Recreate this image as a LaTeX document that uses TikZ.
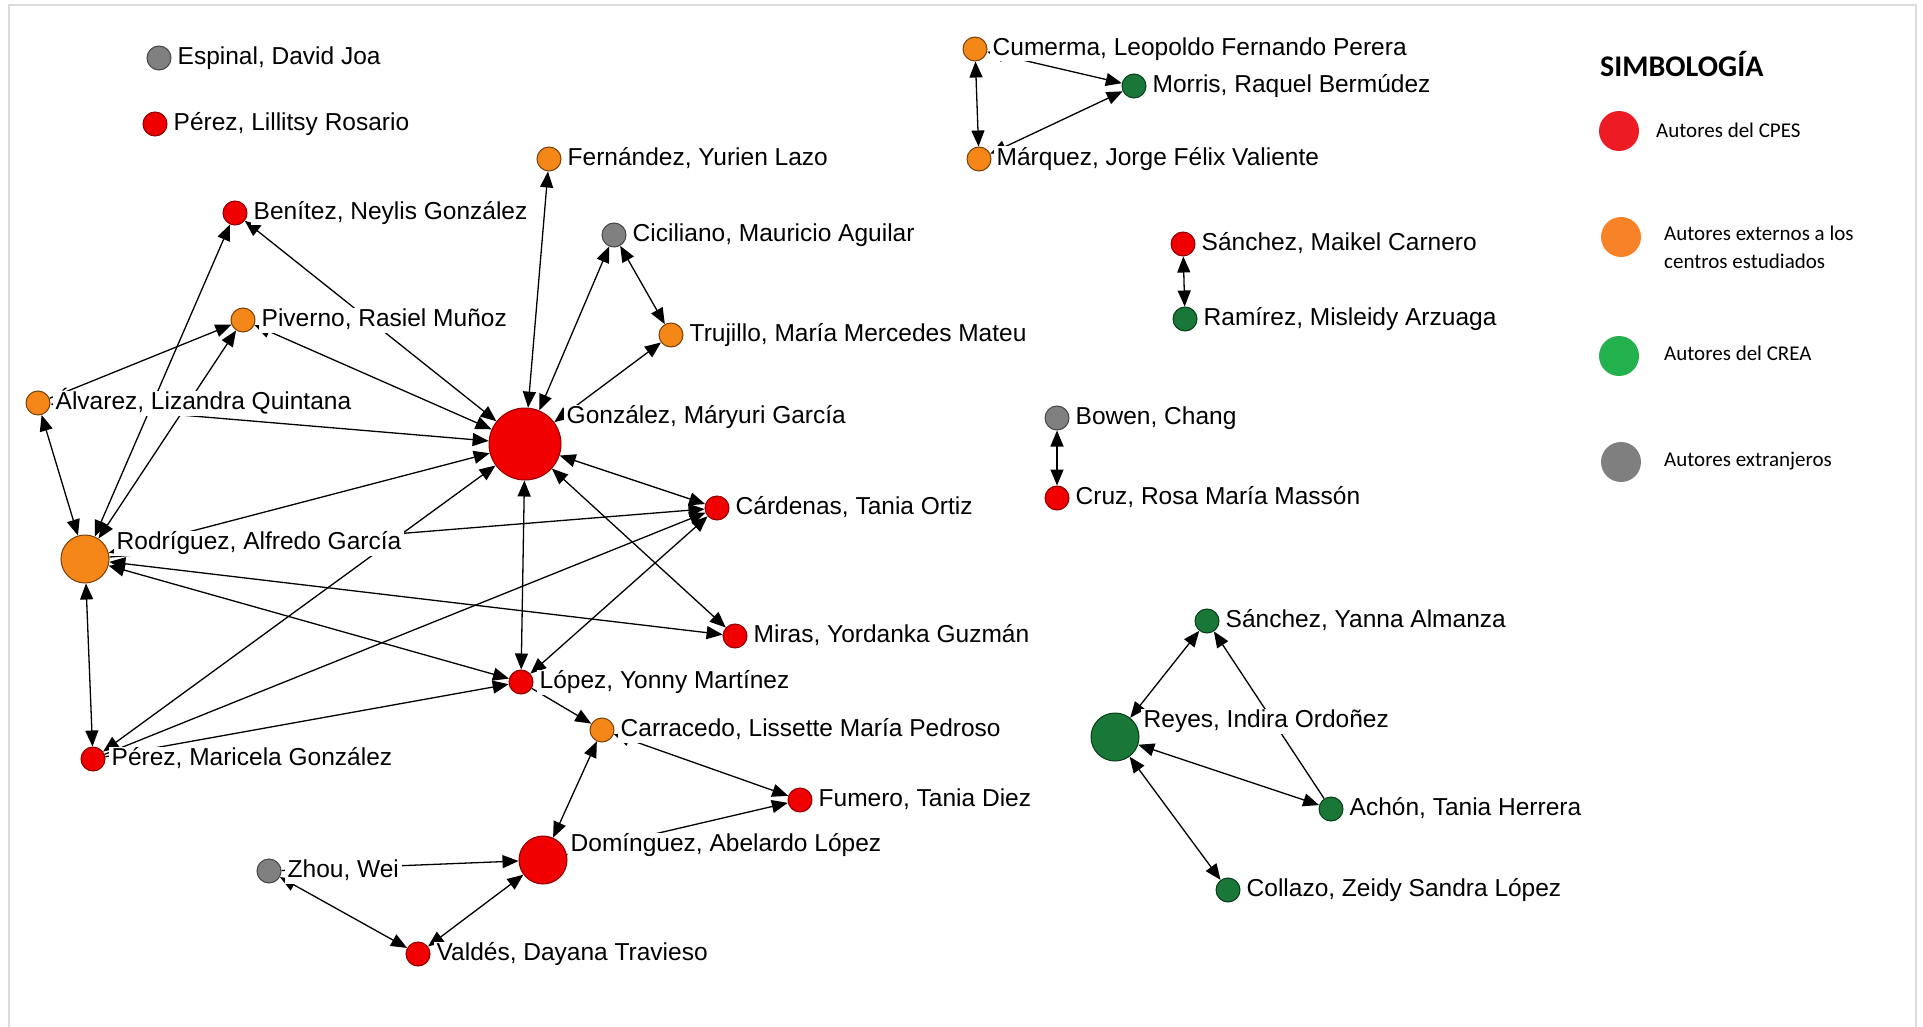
\documentclass[tikz,border=0pt]{standalone}
\usepackage{fontspec}
\setmainfont{Liberation Sans}
\newfontfamily\legfont{Carlito}
\usetikzlibrary{arrows.meta}
\pgfdeclarelayer{bglayer}
\pgfdeclarelayer{edgelayer}
\pgfsetlayers{bglayer,edgelayer,main}
\definecolor{cpred}{RGB}{240,0,0}
\definecolor{cpredd}{RGB}{140,0,0}
\definecolor{exor}{RGB}{245,135,25}
\definecolor{exord}{RGB}{120,65,10}
\definecolor{crgr}{RGB}{25,120,55}
\definecolor{crgrd}{RGB}{10,60,25}
\definecolor{fogr}{RGB}{128,128,128}
\definecolor{fogrd}{RGB}{70,70,70}
\definecolor{lgred}{RGB}{237,28,36}
\definecolor{lgor}{RGB}{247,130,40}
\definecolor{lggr}{RGB}{34,177,76}
\definecolor{lggy}{RGB}{127,127,127}
\definecolor{framegray}{RGB}{220,220,220}
\tikzset{
  base/.style={circle, inner sep=0pt, line width=1pt},
  cp/.style={base, fill=cpred, draw=cpredd},
  ex/.style={base, fill=exor, draw=exord},
  cr/.style={base, fill=crgr, draw=crgrd},
  fo/.style={base, fill=fogr, draw=fogrd},
  sm/.style={minimum size=24pt},
  md/.style={minimum size=48pt},
  lg/.style={minimum size=72pt},
  lab/.style={anchor=west, fill=white, inner xsep=3pt, inner ysep=1pt, text height=18pt, text depth=5pt,
              font=\fontsize{24.5}{28}\selectfont},
  edgeline/.style={draw=black, line width=1.3pt},
  bi/.style={edgeline, <->},
  uni/.style={edgeline, ->},
  legdot/.style={circle, inner sep=0pt, minimum size=40pt},
  legtxt/.style={anchor=west, inner sep=0pt, font=\legfont\fontsize{21}{28}\selectfont, align=left},
}
\begin{document}
\begin{tikzpicture}[x=1pt,y=-1pt,>={Triangle[length=16pt,width=13pt]}]
\useasboundingbox (0,0) rectangle (1923,1027);
\begin{pgfonlayer}{bglayer}
\fill[white] (0,0) rectangle (1923,1027);
\draw[framegray, line width=2.5pt] (9,1027) -- (9,5) -- (1916,5) -- (1916,1027);
\end{pgfonlayer}

% ---------- nodes ----------
\node[fo,sm] (esp) at (159,58) {};
\node[cp,sm] (lil) at (155,124) {};
\node[ex,sm] (fer) at (549,159) {};
\node[cp,sm] (ben) at (235,213) {};
\node[fo,sm] (cic) at (614,235) {};
\node[ex,sm] (piv) at (243,320) {};
\node[ex,sm] (tru) at (671,335) {};
\node[ex,sm] (alv) at (38,403) {};
\node[cp,lg] (gon) at (525,444) {};
\node[ex,md] (rod) at (85,559) {};
\node[cp,sm] (car) at (717,508) {};
\node[cp,sm] (mir) at (735,636) {};
\node[cp,sm] (lop) at (521,682) {};
\node[ex,sm] (cao) at (602,730) {};
\node[cp,sm] (mar) at (93,759) {};
\node[cp,sm] (fum) at (800,800) {};
\node[cp,md] (dom) at (543,860) {};
\node[fo,sm] (zho) at (269,871) {};
\node[cp,sm] (val) at (418,954) {};
\node[ex,sm] (cum) at (975,49) {};
\node[cr,sm] (mor) at (1134,86) {};
\node[ex,sm] (maq) at (979,159) {};
\node[cp,sm] (mai) at (1183,244) {};
\node[cr,sm] (ram) at (1185,319) {};
\node[fo,sm] (bow) at (1057,418) {};
\node[cp,sm] (cru) at (1057,498) {};
\node[cr,sm] (yan) at (1207,621) {};
\node[cr,md] (rey) at (1115,737) {};
\node[cr,sm] (ach) at (1331,809) {};
\node[cr,sm] (col) at (1228,890) {};

% ---------- labels ----------
\node[lab] (esp-t) at ([xshift=3pt]esp.east) {Espinal, David Joa};
\node[lab] (lil-t) at ([xshift=3pt]lil.east) {Pérez, Lillitsy Rosario};
\node[lab] (fer-t) at ([xshift=3pt]fer.east) {Fernández, Yurien Lazo};
\node[lab] (ben-t) at ([xshift=3pt]ben.east) {Benítez, Neylis González};
\node[lab] (cic-t) at ([xshift=3pt]cic.east) {Ciciliano, Mauricio Aguilar};
\node[lab] (piv-t) at ([xshift=3pt]piv.east) {Piverno, Rasiel Muñoz};
\node[lab] (tru-t) at ([xshift=3pt]tru.east) {Trujillo, María Mercedes Mateu};
\node[lab] (alv-t) at ([xshift=2pt]alv.east) {Álvarez, Lizandra Quintana};
\node[lab] (gon-t) at ([xshift=2pt,yshift=27pt]gon.east) {González, Máryuri García};
\node[lab] (rod-t) at ([xshift=4pt,yshift=16pt]rod.east) {Rodríguez, Alfredo García};
\node[lab] (car-t) at ([xshift=3pt]car.east) {Cárdenas, Tania Ortiz};
\node[lab] (mir-t) at ([xshift=3pt]mir.east) {Miras, Yordanka Guzmán};
\node[lab] (lop-t) at ([xshift=3pt]lop.east) {López, Yonny Martínez};
\node[lab] (cao-t) at ([xshift=3pt]cao.east) {Carracedo, Lissette María Pedroso};
\node[lab] (mar-t) at ([xshift=3pt]mar.east) {Pérez, Maricela González};
\node[lab] (fum-t) at ([xshift=3pt]fum.east) {Fumero, Tania Diez};
\node[lab] (dom-t) at ([xshift=0pt,yshift=15pt]dom.east) {Domínguez, Abelardo López};
\node[lab] (zho-t) at ([xshift=3pt]zho.east) {Zhou, Wei};
\node[lab] (val-t) at ([xshift=3pt]val.east) {Valdés, Dayana Travieso};
\node[lab] (cum-t) at ([xshift=2pt]cum.east) {Cumerma, Leopoldo Fernando Perera};
\node[lab] (mor-t) at ([xshift=3pt]mor.east) {Morris, Raquel Bermúdez};
\node[lab] (maq-t) at ([xshift=2pt]maq.east) {Márquez, Jorge Félix Valiente};
\node[lab] (mai-t) at ([xshift=3pt]mai.east) {Sánchez, Maikel Carnero};
\node[lab] (ram-t) at ([xshift=3pt]ram.east) {Ramírez, Misleidy Arzuaga};
\node[lab] (bow-t) at ([xshift=3pt]bow.east) {Bowen, Chang};
\node[lab] (cru-t) at ([xshift=3pt]cru.east) {Cruz, Rosa María Massón};
\node[lab] (yan-t) at ([xshift=3pt]yan.east) {Sánchez, Yanna Almanza};
\node[lab] (rey-t) at ([xshift=1pt,yshift=16pt]rey.east) {Reyes, Indira Ordoñez};
\node[lab] (ach-t) at ([xshift=3pt]ach.east) {Achón, Tania Herrera};
\node[lab] (col-t) at ([xshift=3pt]col.east) {Collazo, Zeidy Sandra López};

% ---------- edges ----------
\begin{pgfonlayer}{edgelayer}
\draw[bi] (fer) -- (gon);
\draw[bi] (cic) -- (gon);
\draw[bi] (cic) -- (tru);
\draw[bi] (gon) -- (tru);
\draw[bi] (ben) -- (rod);
\draw[bi] (ben) -- (gon);
\draw[uni] (alv) -- (piv);
\draw[bi] (rod) -- (piv);
\draw[bi] (gon) -- (piv);
\draw[bi] (alv) -- (rod);
\draw[bi] (alv) -- (gon);
\draw[bi] (rod) -- (gon);
\draw[uni] (rod) -- (car);
\draw[bi] (mar) -- (gon);
\draw[uni] (mar) -- (car);
\draw[uni] (mar) -- (lop);
\draw[bi] (mar) -- (rod);
\draw[bi] (gon) -- (car);
\draw[bi] (gon) -- (mir);
\draw[bi] (gon) -- (lop);
\draw[bi] (rod) -- (mir);
\draw[bi] (rod) -- (lop);
\draw[bi] (lop) -- (car);
\draw[uni] (lop) -- (cao);
\draw[bi] (cao) -- (dom);
\draw[bi] (cao) -- (fum);
\draw[bi] (dom) -- (fum);
\draw[uni] (zho) -- (dom);
\draw[bi] (zho) -- (val);
\draw[bi] (val) -- (dom);
\draw[bi] (cum) -- (maq);
\draw[bi] (cum) -- (mor);
\draw[bi] (maq) -- (mor);
\draw[bi] (mai) -- (ram);
\draw[bi] (bow) -- (cru);
\draw[bi] (yan) -- (rey);
\draw[uni] (ach) -- (yan);
\draw[bi] (rey) -- (ach);
\draw[bi] (rey) -- (col);
\end{pgfonlayer}

% ---------- legend ----------
\node[anchor=west, inner sep=0pt, font=\legfont\bfseries\fontsize{30}{32}\selectfont] (leg-title) at (1600,64) {SIMBOLOGÍA};
\node[legdot, fill=lgred] (leg-r) at (1619,131) {};
\node[legdot, fill=lgor] (leg-o) at (1621,237) {};
\node[legdot, fill=lggr] (leg-g) at (1619,356) {};
\node[legdot, fill=lggy] (leg-y) at (1621,462) {};
\node[legtxt] (leg-rt) at (1656,130) {Autores del CPES};
\node[legtxt] (leg-ot) at (1664,247) {Autores externos a los\\centros estudiados};
\node[legtxt] (leg-gt) at (1664,353) {Autores del CREA};
\node[legtxt] (leg-yt) at (1664,461) {Autores extranjeros};
\end{tikzpicture}
\end{document}
